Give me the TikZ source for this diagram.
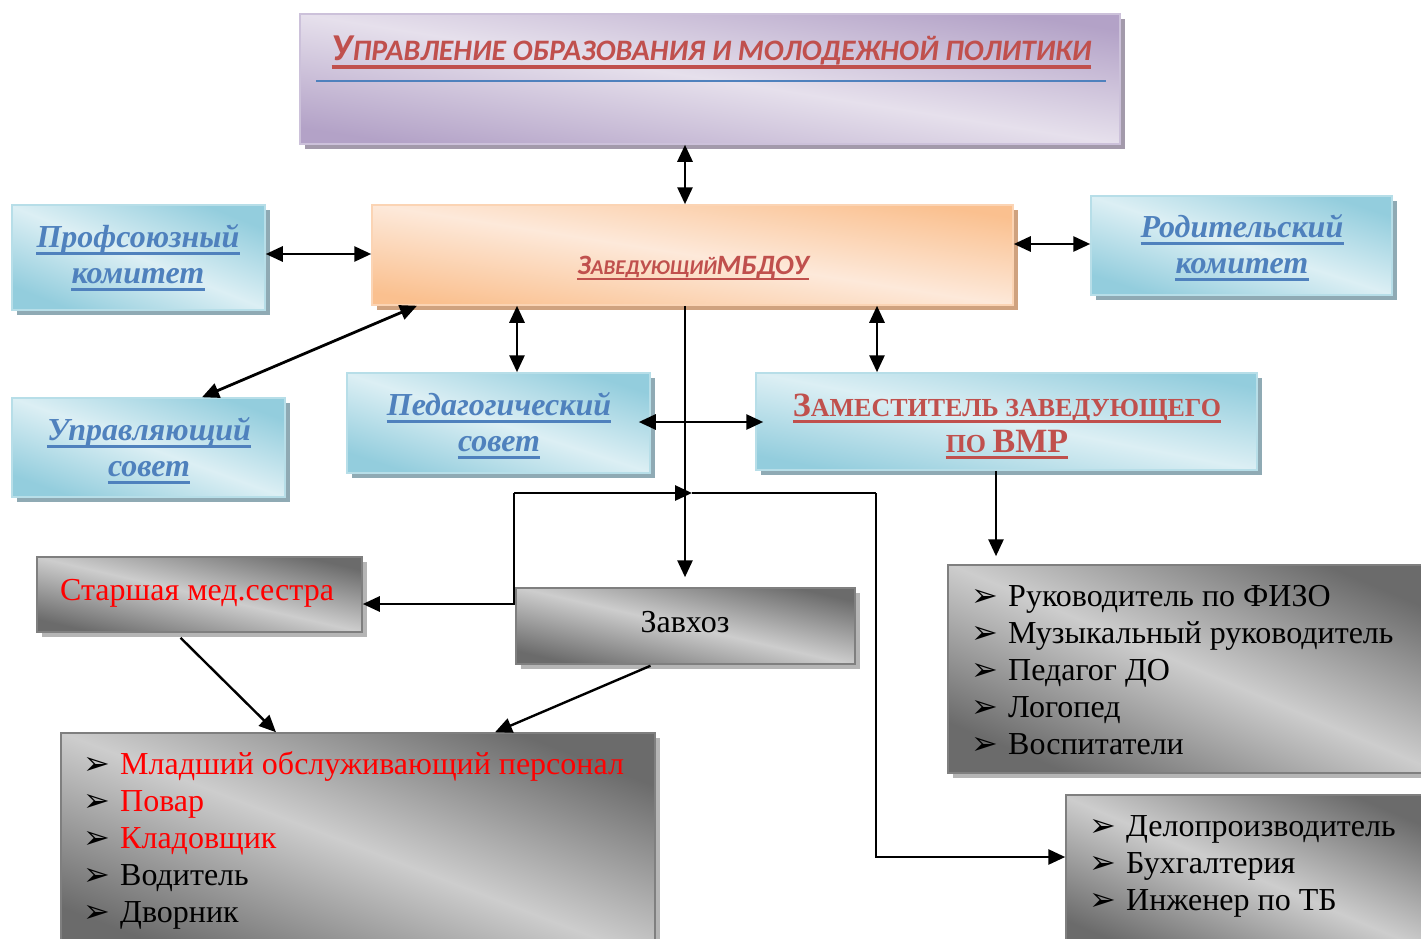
\documentclass[tikz,border=0pt]{standalone}
\usepackage{fontspec}
\setmainfont{Liberation Serif}
\newfontfamily\calib{Carlito}
\newfontfamily\djv{DejaVu Sans}
\usetikzlibrary{arrows.meta,shadows,calc}
\definecolor{bdark}{HTML}{93CDDD}
\definecolor{blight}{HTML}{DCEFF4}
\definecolor{bborder}{HTML}{B7DEE8}
\definecolor{bshadow}{HTML}{8FAAB4}
\definecolor{odark}{HTML}{FAC08F}
\definecolor{olight}{HTML}{FDE9DA}
\definecolor{oborder}{HTML}{FBD4B4}
\definecolor{oshadow}{HTML}{CFA27F}
\definecolor{pdark}{HTML}{B3A2C7}
\definecolor{plight}{HTML}{E6E0EC}
\definecolor{pborder}{HTML}{CCC1DA}
\definecolor{pshadow}{HTML}{A39AAB}
\definecolor{gdark}{HTML}{6B6B6B}
\definecolor{glight}{HTML}{CDCDCD}
\definecolor{gborder}{HTML}{7F7F7F}
\definecolor{gshadow}{HTML}{B5B5B5}
\definecolor{titred}{HTML}{C0504D}
\definecolor{titblue}{HTML}{4F81BD}
\definecolor{listred}{HTML}{FF0000}
\newcommand\fsz[1]{\fontsize{#1}{#1}\selectfont}
\begin{document}
\begin{tikzpicture}[x=1pt,y=-1pt,
  box/.style={rectangle, inner sep=0pt, line width=1.5pt},
  bluebox/.style={box, draw=bborder, left color=bdark, right color=bdark, middle color=blight, shading angle=#1,
    general shadow={fill=bshadow, shadow xshift=5pt, shadow yshift=-5pt}},
  orbox/.style={box, draw=oborder, left color=odark, right color=odark, middle color=olight, shading angle=#1,
    general shadow={fill=oshadow, shadow xshift=5pt, shadow yshift=-5pt}},
  purbox/.style={box, draw=pborder, left color=pdark, right color=pdark, middle color=plight, shading angle=#1,
    general shadow={fill=pshadow, shadow xshift=5pt, shadow yshift=-5pt}},
  graybox/.style={box, draw=gborder, left color=gdark, right color=gdark, middle color=glight, shading angle=#1,
    general shadow={fill=gshadow, shadow xshift=5pt, shadow yshift=-5pt}},
  txt/.style={inner sep=0pt, anchor=base},
  bluetitle/.style={txt, text=titblue, font=\fsz{32}\bfseries\itshape},
  redtitle/.style={txt, text=titred, font=\bfseries},
  listtxt/.style={inner sep=0pt, anchor=base west, font=\fsz{32}},
  bul/.style={inner sep=0pt, anchor=base west, font=\djv\fsz{32}},
  bline/.style={line width=3.5pt, titblue},
  rline/.style={line width=3.5pt, titred},
  conn/.style={line width=2.8pt, black},
  tip/.tip={Triangle[length=17pt,width=15pt]},
  arr/.style={conn, -tip},
  darr/.style={conn, tip-tip}
]
\fill[white] (0,0) rectangle (1421,939);
\useasboundingbox (0,0) rectangle (1421,939);

% ---------- boxes ----------
\node[purbox=-9, minimum width=820, minimum height=130] (top) at (710,79) {};
\node[orbox=-9, minimum width=641, minimum height=100] (cen) at (692.5,255) {};
\node[bluebox=-22, minimum width=253, minimum height=105] (prof) at (138.5,257.5) {};
\node[bluebox=-18, minimum width=301, minimum height=99] (rod) at (1241.5,245.5) {};
\node[bluebox=-20, minimum width=273, minimum height=99] (upr) at (148.5,447.5) {};
\node[bluebox=-18, minimum width=303, minimum height=100] (ped) at (498.5,423) {};
\node[bluebox=-11, minimum width=501, minimum height=97] (zam) at (1006.5,421.5) {};
\node[graybox=-13, minimum width=325, minimum height=75] (med) at (199.5,594.5) {};
\node[graybox=-13, minimum width=339, minimum height=76] (zav) at (685.5,626) {};
\node[graybox=-21, minimum width=594, minimum height=227] (lst) at (358,846.5) {};
\node[graybox=-23, minimum width=497, minimum height=208] (rl1) at (1196.5,669) {};
\node[graybox=-23, minimum width=379, minimum height=165] (rl2) at (1255.5,877.5) {};

% ---------- titles ----------
\node[txt, text=titred, font=\calib\bfseries\itshape] (toptxt) at (711.5,61)
  {{\fsz{38}У}{\fsz{29.7}ПРАВЛЕНИЕ ОБРАЗОВАНИЯ И МОЛОДЕЖНОЙ ПОЛИТИКИ}};
\draw[rline] ([yshift=-6pt]toptxt.base west) -- ([yshift=-6pt]toptxt.base east);
\draw[line width=2pt, titblue] ([xshift=17pt]top.west |- 0,81) -- ([xshift=-15pt]top.east |- 0,81);

\node[txt, text=titred, font=\calib\bfseries\itshape] (centxt) at (693,274)
  {{\fsz{28}З}{\fsz{21}АВЕДУЮЩИЙ}{\fsz{28}МБДОУ}};
\draw[rline, line width=2.5pt] ([yshift=-5pt]centxt.base west) -- ([yshift=-5pt]centxt.base east);

\node[bluetitle] (prof1) at (138,247) {Профсоюзный};
\node[bluetitle] (prof2) at (138,283) {комитет};
\node[bluetitle] (rod1) at (1242,237) {Родительский};
\node[bluetitle] (rod2) at (1242,273) {комитет};
\node[bluetitle] (upr1) at (149,440) {Управляющий};
\node[bluetitle] (upr2) at (149,476) {совет};
\node[bluetitle] (ped1) at (499,415) {Педагогический};
\node[bluetitle] (ped2) at (499,451) {совет};
\foreach \n in {prof1,prof2,rod1,rod2,upr1,upr2,ped1,ped2}
  \draw[bline] ([yshift=-6.5pt]\n.base west) -- ([yshift=-6.5pt]\n.base east);

\node[redtitle] (zam1) at (1007,416) {{\fsz{34}З}{\fsz{26}АМЕСТИТЕЛЬ ЗАВЕДУЮЩЕГО}};
\node[redtitle] (zam2) at (1007,452) {{\fsz{26}ПО }{\fsz{34}ВМР}};
\foreach \n in {zam1,zam2}
  \draw[rline] ([yshift=-5.5pt]\n.base west) -- ([yshift=-5.5pt]\n.base east);

\node[listtxt, text=listred] (medtxt) at (60,600) {Старшая мед.сестра};
\node[txt, font=\fsz{32}] (zavtxt) at (685,632) {Завхоз};

% ---------- lists ----------
\foreach \t [count=\i] in {Руководитель по ФИЗО, Музыкальный руководитель, Педагог ДО, Логопед, Воспитатели} {
  \node[bul] (rb\i) at (971,{606+37*(\i-1)}) {➢};
  \node[listtxt] (rt\i) at (1008,{606+37*(\i-1)}) {\t};
}
\foreach \t [count=\i] in {Делопроизводитель, Бухгалтерия, Инженер по ТБ} {
  \node[bul] (sb\i) at (1089,{836+37*(\i-1)}) {➢};
  \node[listtxt] (st\i) at (1126,{836+37*(\i-1)}) {\t};
}
\foreach \t/\c [count=\i] in {Младший обслуживающий персонал/listred, Повар/listred, Кладовщик/listred, Водитель/black, Дворник/black} {
  \node[bul] (lb\i) at (83,{774+37*(\i-1)}) {➢};
  \node[listtxt, text=\c] (lt\i) at (120,{774+37*(\i-1)}) {\t};
}

% ---------- connectors ----------
\coordinate (jl) at (514,493);
\coordinate (jx) at (692,493);
\coordinate (jr) at (876,493);

\draw[darr] (cen.north -| 685,0) -- (top.south -| 685,0);
\draw[darr] (prof.east |- 0,254) -- (cen.west |- 0,254);
\draw[darr] (cen.east |- 0,244) -- (rod.west |- 0,244);
\draw[darr] (cen.south -| 417,0) -- (upr.north -| 202,0);
\draw[darr] (cen.south -| 517,0) -- (ped.north -| 517,0);
\draw[darr] (cen.south -| 877,0) -- (zam.north -| 877,0);
\draw[darr] ([xshift=-12pt]ped.east |- 0,422) -- ([xshift=8pt]zam.west |- 0,422);
\draw[arr, shorten >=10pt] (cen.south -| 685,0) -- (zav.north -| 685,0);
\draw[arr] (jl) -- (jx);
\draw[conn] (jx) -- (jr);
\draw[arr] (jl) |- (med.east |- 0,604);
\draw[arr] (jr) |- (rl2.west |- 0,857);
\draw[arr, shorten >=8pt] (zam.south -| 996,0) -- (rl1.north -| 996,0);
\draw[arr, line width=2.4pt] ($(med.south)+(-19,5)$) -- (lst.north -| 276,0);
\draw[arr, line width=2.4pt] ($(zav.south)+(-35,1)$) -- (lst.north -| 495,0);
\end{tikzpicture}
\end{document}
